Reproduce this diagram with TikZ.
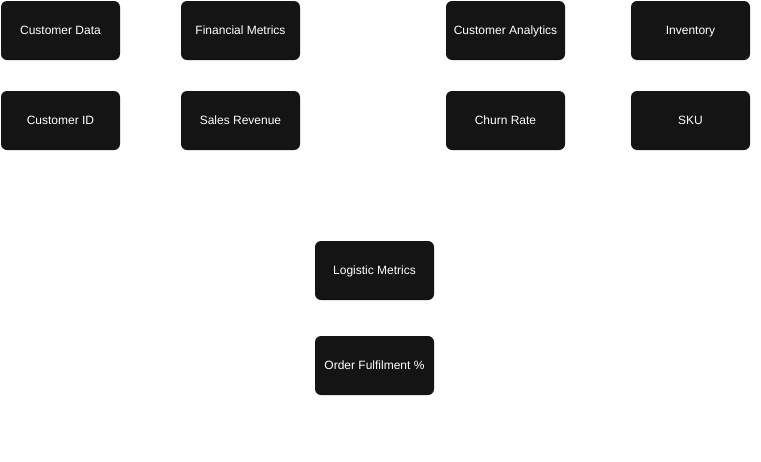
\documentclass[tikz,border=0pt]{standalone}
\usepackage{fontspec}
\setmainfont{Liberation Sans}
\begin{document}
\begin{tikzpicture}[x=1pt,y=1pt]
\definecolor{fillColor}{RGB}{255,255,255}
\definecolor{boxColor}{RGB}{20,20,20}
\tikzset{metricbox/.style={fill=boxColor,text=white,rounded corners=6pt,
  minimum width=119pt,minimum height=59pt,inner sep=0pt,outer sep=0pt,
  text height=9.2pt,text depth=1.2pt,
  font=\fontsize{12}{14}\selectfont}}
\path[use as bounding box,fill=fillColor] (0,0) rectangle (761,-461);

\node[metricbox] (custdata) at ( 60.5, -30.5) {Customer Data};

\node[metricbox] (finmetrics) at (240.5, -30.5) {Financial Metrics};

\node[metricbox] (custanalytics) at (505.5, -30.5) {Customer Analytics};

\node[metricbox] (inventory) at (690.5, -30.5) {Inventory};

\node[metricbox] (custid) at ( 60.5,-120.5) {Customer ID};

\node[metricbox] (salesrev) at (240.5,-120.5) {Sales Revenue};

\node[metricbox] (churn) at (505.5,-120.5) {Churn Rate};

\node[metricbox] (sku) at (690.5,-120.5) {SKU};

\node[metricbox] (logmetrics) at (374.5,-270.5) {Logistic Metrics};

\node[metricbox] (fulfil) at (374.5,-365.5) {Order Fulfilment \%};
\end{tikzpicture}
\end{document}
